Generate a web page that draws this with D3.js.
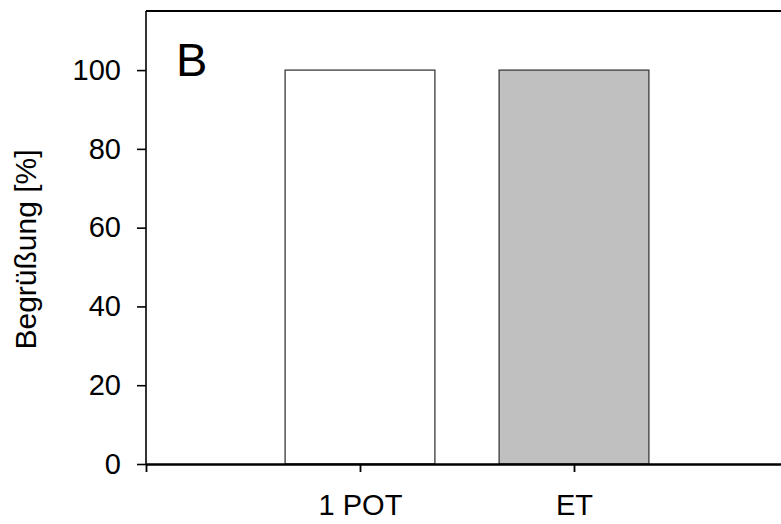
<!DOCTYPE html>
<html>
<head>
<style>
  body, html { margin: 0; padding: 0; background: #fff; }
  text { font-family: "Liberation Sans", Arial, sans-serif; }
</style>
</head>
<body>
<svg id="svg" width="781" height="524"></svg>
<script src="https://d3js.org/d3.v7.min.js"></script>
<script>
  // data
  const categories = ['1 POT', 'ET']
  const values = [100, 100]
  const fills = ['#ffffff', '#c0c0c0']
  const yTicks = [0, 20, 40, 60, 80, 100]
  const panelLetter = 'B'
  const yLabel = 'Begrüßung [%]'

  const svg = d3.select('#svg')
  const mLeft = 146, mRight = 788, mTop = 11, mBottom = 464

  // x positions: slot 0 is the left axis, bars sit at 1 and 2
  const x = d3.scaleLinear().domain([0, 3]).range([mLeft, mRight])
  const y = d3.scaleLinear().domain([0, 115]).range([mBottom, mTop])
  const barW = 0.7

  // bars
  svg.append('g')
    .selectAll('rect')
    .data(values)
    .join('rect')
    .attr('x', (d, i) => x(i + 1 - barW / 2))
    .attr('width', x(barW) - x(0))
    .attr('y', d => y(d))
    .attr('height', d => y(0) - y(d))
    .attr('fill', (d, i) => fills[i])
    .attr('stroke', '#3a3a3a')
    .attr('stroke-width', 1.3)

  // top frame line
  svg.append('line')
    .attr('x1', mLeft).attr('x2', 781)
    .attr('y1', mTop).attr('y2', mTop)
    .attr('stroke', '#000').attr('stroke-width', 2.2)

  // y axis
  const yAxis = svg.append('g')
    .attr('transform', `translate(${mLeft},0)`)
    .call(d3.axisLeft(y).tickValues(yTicks).tickSize(9).tickPadding(16).tickSizeOuter(0))
  yAxis.select('.domain').attr('stroke-width', 1.6).attr('d', `M0,${mBottom}V${mTop}`)
  yAxis.selectAll('.tick line').attr('stroke-width', 1.6)
  yAxis.selectAll('text').attr('font-size', 29).attr('fill', '#000')
    .style('font-family', '"Liberation Sans", Arial, sans-serif')

  // x axis
  const xAxis = svg.append('g')
    .attr('transform', `translate(0,${mBottom})`)
    .call(d3.axisBottom(x).tickValues([0, 1, 2])
      .tickFormat(d => d === 0 ? '' : categories[d - 1])
      .tickSize(8).tickPadding(22).tickSizeOuter(0))
  xAxis.select('.domain').attr('stroke-width', 2.6)
  xAxis.selectAll('.tick line').attr('stroke-width', 1.8)
  xAxis.selectAll('text').attr('font-size', 29).attr('fill', '#000')
    .style('font-family', '"Liberation Sans", Arial, sans-serif')

  // panel letter
  svg.append('text')
    .attr('x', 176).attr('y', 76)
    .attr('font-size', 47)
    .text(panelLetter)

  // y label
  svg.append('text')
    .attr('transform', `translate(36,${(mTop + mBottom) / 2 + 12}) rotate(-90)`)
    .attr('text-anchor', 'middle')
    .attr('font-size', 30)
    .text(yLabel)
</script>
</body>
</html>
